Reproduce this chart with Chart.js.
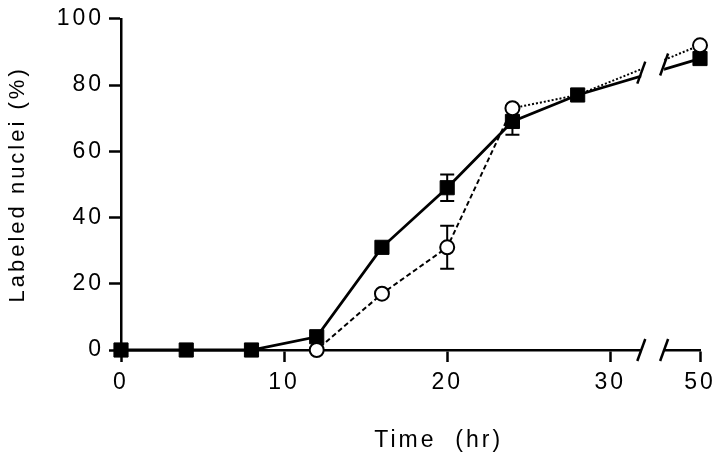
<!DOCTYPE html>
<html>
<head>
<meta charset="utf-8">
<script src="https://cdn.jsdelivr.net/npm/chart.js@4"></script>
<style>
  html, body { margin: 0; padding: 0; background: #fff; }
  #wrap { width: 720px; height: 466px; }
</style>
</head>
<body>
<div id="wrap"><canvas id="chart"></canvas></div>
<script>
// time points (hr) and % labeled nuclei
const hours = [0, 4, 8, 12, 16, 20, 24, 28, 50];
const squareVals = [0, 0, 0, 4, 31, 49, 69, 77, 88];
const squareErr  = [0, 0, 0, 0, 0, 4, 4, 0, 0];
const circleVals = [0, 0, 0, 0, 17, 31, 73, 77, 92];
const circleErr  = [0, 0, 0, 0, 0, 6.5, 0, 0, 0];
const xTicks = [0, 10, 20, 30, 50];
const yTicks = [0, 20, 40, 60, 80, 100];

// the axis is broken after 30, 50 hr sits just past the break
const X50 = 35.5;
const BREAK_A = 31.9, BREAK_B = 33.3;
const axisPos = h => (h >= 50 ? X50 : h);

Chart.defaults.font.family = '"Liberation Sans", Arial, sans-serif';
Chart.defaults.color = '#000';

const spacing = {
    id: 'spacing',
    beforeDraw(c) { c.ctx.letterSpacing = '3px'; }
};

const errorBars = {
    id: 'errorBars',
    beforeDatasetsDraw(c) {
        const ctx = c.ctx, xs = c.scales.x, ys = c.scales.y;
        c.data.datasets.forEach(ds => {
            if (!ds.err) return;
            ds.data.forEach((p, i) => {
                let e = ds.err[i];
                if (!e) return;
                let x = xs.getPixelForValue(p.x),
                    y1 = ys.getPixelForValue(p.y + e),
                    y2 = ys.getPixelForValue(p.y - e);
                ctx.save();
                ctx.strokeStyle = '#000';
                ctx.lineWidth = 2;
                ctx.beginPath();
                ctx.moveTo(x, y1); ctx.lineTo(x, y2);
                ctx.moveTo(x - 7, y1); ctx.lineTo(x + 7, y1);
                ctx.moveTo(x - 7, y2); ctx.lineTo(x + 7, y2);
                ctx.stroke();
                ctx.restore();
            });
        });
    }
};

function slash(ctx, x, y) {
    ctx.beginPath();
    ctx.moveTo(x - 4, y + 11);
    ctx.lineTo(x + 4, y - 11);
    ctx.stroke();
}

const axisBreak = {
    id: 'axisBreak',
    afterDatasetsDraw(c) {
        const ctx = c.ctx, xs = c.scales.x, area = c.chartArea;
        let xa = xs.getPixelForValue(BREAK_A), xb = xs.getPixelForValue(BREAK_B);
        ctx.save();
        ctx.fillStyle = '#fff';
        ctx.fillRect(xa, area.top - 15, xb - xa, area.bottom - area.top + 17);
        ctx.strokeStyle = '#000';
        ctx.lineWidth = 2.5;
        slash(ctx, xa, area.bottom);
        slash(ctx, xb, area.bottom);
        // slashes across the data lines, at the height the lines cross
        [xa, xb].forEach(x => {
            let ys = c.data.datasets.map((ds, k) => {
                let pts = c.getDatasetMeta(k).data,
                    p0 = pts[pts.length - 2], p1 = pts[pts.length - 1];
                return p0.y + (p1.y - p0.y) * (x - p0.x) / (p1.x - p0.x);
            });
            slash(ctx, x, (Math.min(...ys) + Math.max(...ys)) / 2);
        });
        ctx.restore();
    }
};

new Chart(document.getElementById('chart'), {
    type: 'line',
    data: {
        datasets: [
            {
                label: 'open',
                data: hours.map((h, i) => ({ x: axisPos(h), y: circleVals[i] })),
                err: circleErr,
                borderColor: '#000',
                borderWidth: 2,
                borderDash: [5, 3],
                segment: { borderDash: s => (s.p0DataIndex >= 6 ? [2, 2] : [5, 3]) },
                pointStyle: 'circle',
                pointRadius: p => (hours[p.dataIndex] <= 8 || hours[p.dataIndex] === 28 ? 0 : 7),
                pointBackgroundColor: '#fff',
                pointBorderColor: '#000',
                pointBorderWidth: 2,
                clip: false
            },
            {
                label: 'filled',
                data: hours.map((h, i) => ({ x: axisPos(h), y: squareVals[i] })),
                err: squareErr,
                borderColor: '#000',
                borderWidth: 2.8,
                pointStyle: 'rect',
                pointRadius: 10,
                pointBackgroundColor: '#000',
                pointBorderColor: '#000',
                pointBorderWidth: 1,
                clip: false
            }
        ]
    },
    options: {
        responsive: true,
        maintainAspectRatio: false,
        animation: false,
        events: [],
        layout: { padding: { top: 13, right: 20, left: 0, bottom: 0 } },
        plugins: { legend: { display: false }, tooltip: { enabled: false } },
        scales: {
            x: {
                type: 'linear',
                min: 0,
                max: X50,
                afterBuildTicks: s => { s.ticks = xTicks.map(v => ({ value: axisPos(v) })); },
                afterFit: s => { s.height = 116; },
                ticks: {
                    font: { size: 23 },
                    padding: 7,
                    maxRotation: 0,
                    callback: v => (v === X50 ? '50' : String(v))
                },
                grid: { drawOnChartArea: false, tickLength: 12, tickWidth: 2.5, tickColor: '#000' },
                border: { color: '#000', width: 2.5 },
                title: { display: true, text: '      Time  (hr)', font: { size: 23 }, padding: { top: 0, bottom: 12 } }
            },
            y: {
                min: 0,
                max: 100,
                afterBuildTicks: s => { s.ticks = yTicks.map(v => ({ value: v })); },
                afterFit: s => { s.width = 121; },
                ticks: { font: { size: 23 }, padding: 5 },
                grid: { drawOnChartArea: false, tickLength: 12, tickWidth: 2.5, tickColor: '#000' },
                border: { color: '#000', width: 2.5 },
                title: { display: true, text: 'Labeled nuclei (%)', font: { size: 22 }, padding: { top: 5, bottom: 0 } }
            }
        }
    },
    plugins: [spacing, errorBars, axisBreak]
});
</script>
</body>
</html>
